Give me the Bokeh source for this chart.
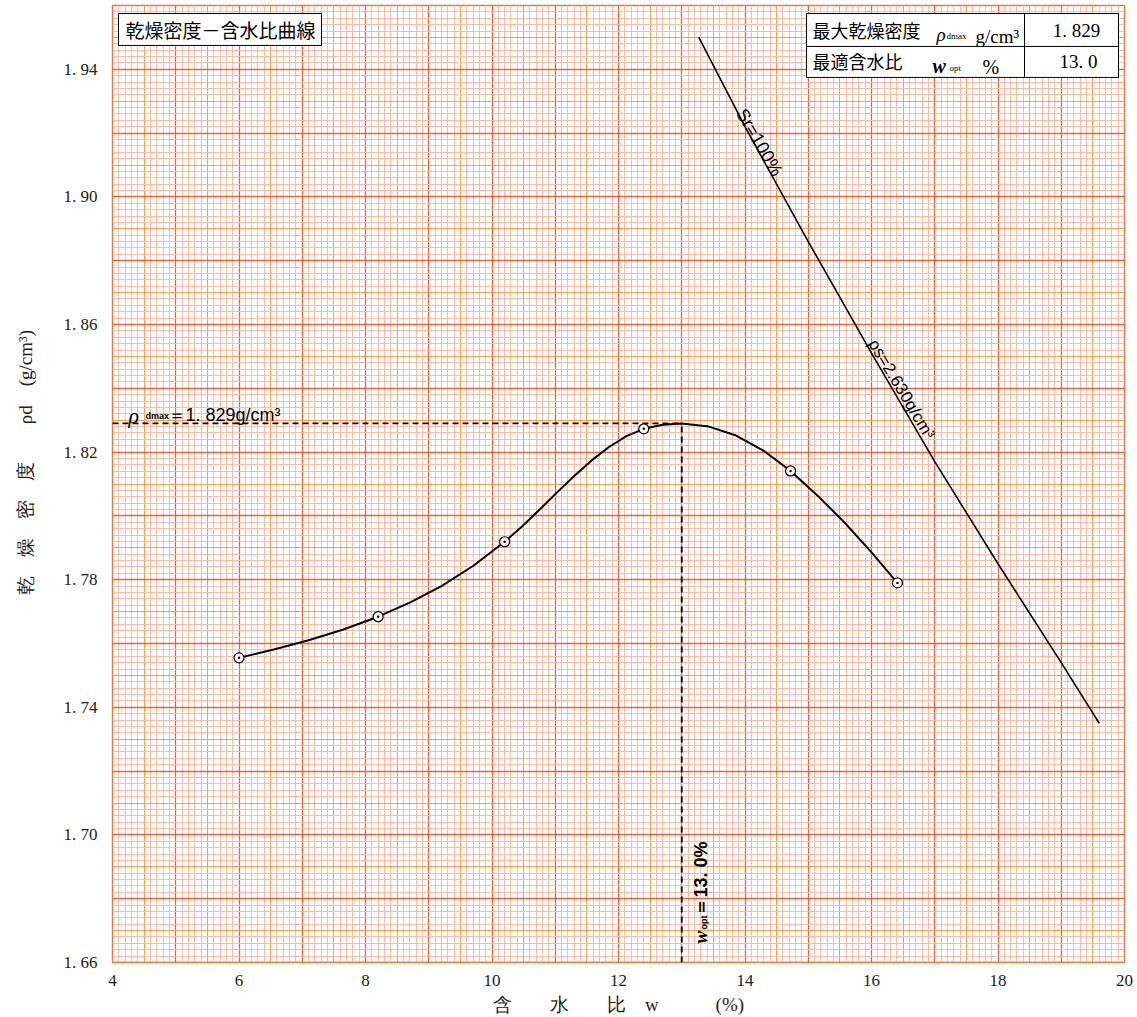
import math
from bokeh.plotting import figure
from bokeh.models import Range1d, Grid, SingleIntervalTicker, FixedTicker, Label
from bokeh.embed import file_html
from bokeh.resources import INLINE

# ---------------- data ----------------
water_content = [6.0, 8.2, 10.2, 12.4, 14.72, 16.41]             # w (%)
dry_density = [1.7555, 1.7684, 1.7919, 1.8273, 1.8141, 1.7790]   # rho_d (g/cm3)

curve_w = [6.0, 6.55, 7.1, 7.65, 8.2, 8.7, 9.2, 9.7, 10.2, 10.475, 10.75, 11.025,
           11.3, 11.575, 11.85, 12.125, 12.4, 12.7, 13.0, 13.43, 13.86, 14.29,
           14.72, 15.14, 15.57, 15.99, 16.41]
curve_rho = [1.7555, 1.7581, 1.7610, 1.7644, 1.7684, 1.7728, 1.7780, 1.7843,
             1.7919, 1.7967, 1.8019, 1.8073, 1.8125, 1.8174, 1.8216, 1.8250,
             1.8273, 1.8286, 1.8290, 1.8280, 1.8252, 1.8205, 1.8141, 1.8065,
             1.7980, 1.7888, 1.7790]

sat_w = [13.27, 14.0, 15.0, 16.0, 17.0, 18.0, 19.0, 19.6]       # Sr = 100 %
sat_rho = [1.950, 1.922, 1.886, 1.851, 1.817, 1.785, 1.754, 1.735]

rho_dmax = 1.829
w_opt = 13.0

x_ticks = [4, 6, 8, 10, 12, 14, 16, 18, 20]
x_tick_labels = ["4", "6", "8", "10", "12", "14", "16", "18", "20"]
y_ticks = [1.66, 1.70, 1.74, 1.78, 1.82, 1.86, 1.90, 1.94]
y_tick_labels = ["1. 66", "1. 70", "1. 74", "1. 78", "1. 82", "1. 86", "1. 90", "1. 94"]

x_title = "含　　水　　比　w　　　(%)"
y_title = "　　 乾　燥　密　度　　ρd　(g/cm³)"
title_text = "乾燥密度－含水比曲線"
table_row1 = "最大乾燥密度"
table_row2 = "最適含水比"
table_val1 = "1. 829"
table_val2 = "13. 0"

# ---------------- figure ----------------
W, H = 1137, 1017
L, R, T, B = 112, 13, 5, 54
X0, X1, Y0, Y1 = 4, 20, 1.66, 1.96
FW, FH = W - L - R, H - T - B


def X(px):
    return X0 + (px - L) * (X1 - X0) / FW


def Y(py):
    return Y0 + (T + FH - py) * (Y1 - Y0) / FH


CJK = "Noto Sans CJK JP"
SERIF = "Liberation Serif"
SANS = "Liberation Sans"

p = figure(width=W, height=H, x_range=Range1d(X0, X1), y_range=Range1d(Y0, Y1),
           output_backend="svg", toolbar_location=None,
           min_border_left=L, min_border_right=R, min_border_top=T, min_border_bottom=B)
p.background_fill_color = "white"
p.border_fill_color = "white"
p.outline_line_color = "#f07440"
p.outline_line_width = 1.5

p.xgrid.visible = False
p.ygrid.visible = False
for dim, specs in ((0, [(0.1, "#f6bea6", 1.0), (0.5, "#f7a04e", 1.0), (1.0, "#ee6236", 1.3)]),
                   (1, [(0.002, "#f6bea6", 1.0), (0.01, "#f7a04e", 1.0), (0.02, "#ee6236", 1.3)])):
    for interval, color, width in specs:
        p.add_layout(Grid(dimension=dim,
                          ticker=SingleIntervalTicker(interval=interval, num_minor_ticks=0),
                          grid_line_color=color, grid_line_width=width))

for ax, ticks, labels, standoff in ((p.xaxis, x_ticks, x_tick_labels, 6),
                                    (p.yaxis, y_ticks, y_tick_labels, 9)):
    ax.ticker = FixedTicker(ticks=ticks)
    ax.major_label_overrides = dict(zip(ticks, labels))
    ax.axis_line_color = None
    ax.major_tick_line_color = None
    ax.minor_tick_line_color = None
    ax.major_label_text_font = SERIF
    ax.major_label_text_font_size = "17px"
    ax.major_label_text_color = "#222222"
    ax.major_label_standoff = standoff
    ax.axis_label_text_font = SERIF
    ax.axis_label_text_font_size = "19px"
    ax.axis_label_text_font_style = "normal"
    ax.axis_label_text_color = "#222222"

p.xaxis.axis_label = x_title
p.xaxis.axis_label_standoff = 5
p.yaxis.axis_label = y_title
p.yaxis.axis_label_standoff = 25

# ---------------- glyphs ----------------
p.line(sat_w, sat_rho, line_color="black", line_width=1.6)
p.line([X0, w_opt], [rho_dmax, rho_dmax], line_color="black", line_width=1.8, line_dash="6 4")
p.line([w_opt, w_opt], [Y0, rho_dmax], line_color="black", line_width=1.8, line_dash="6 4")
p.line(curve_w, curve_rho, line_color="black", line_width=2, line_join="round")
p.scatter(water_content, dry_density, marker="circle_dot", size=10,
          fill_color="white", line_color="black", line_width=1.2)

# boxes (layout only)
p.quad(left=X(118), right=X(321), top=Y(13), bottom=Y(45),
       fill_color="white", line_color="black", line_width=1)
p.quad(left=X(806), right=X(1118), top=Y(13), bottom=Y(77),
       fill_color="white", line_color="black", line_width=1)
p.segment(x0=[X(806), X(1024)], y0=[Y(46), Y(13)], x1=[X(1118), X(1024)], y1=[Y(46), Y(77)],
          line_color="black", line_width=1)


def lab(px, py, text, size, font=SERIF, style="normal", align="left",
        baseline="middle", angle=0.0, color="black"):
    p.add_layout(Label(x=X(px), y=Y(py), text=text, text_font=font,
                       text_font_size=f"{size}px", text_font_style=style,
                       text_align=align, text_baseline=baseline, angle=angle,
                       text_color=color))


# title box
lab(125, 29, title_text, 19, CJK)

# table
lab(812, 30, table_row1, 18, CJK)
lab(936, 34, "ρ", 19, SERIF, "italic", baseline="alphabetic")
lab(946, 36, "dmax", 9, SERIF, baseline="alphabetic")
lab(975, 36, "g/cm³", 19, SERIF, baseline="alphabetic")
lab(1076, 30, table_val1, 19, SERIF, align="center")
lab(812, 61, table_row2, 18, CJK)
lab(932, 66, "w", 20, SERIF, "bold italic", baseline="alphabetic")
lab(949, 68, "opt", 9, SERIF, baseline="alphabetic")
lab(982, 67, "%", 20, SERIF, baseline="alphabetic")
lab(1078, 61, table_val2, 19, SERIF, align="center")

# line annotations
lab(759, 142, "Sr=100%", 18, SANS, align="center", angle=-1.04)
lab(901, 389, "ρs=2.630g/cm³", 17, SANS, align="center", angle=-1.03)

# rho_dmax label
lab(128, 415, "ρ", 22, SERIF, "italic", baseline="alphabetic")
lab(145, 416, "dmax", 9, SANS, "bold", baseline="alphabetic")
lab(167, 415, "＝1. 829g/cm³", 18, SANS, baseline="alphabetic")

# w_opt label (vertical)
lab(700, 944, "w", 19, SERIF, "bold italic", angle=math.pi / 2)
lab(703, 930, "opt", 9, SANS, "bold", angle=math.pi / 2)
lab(700, 916, "＝13. 0%", 18, SANS, "bold", angle=math.pi / 2)

open("out.html", "w").write(file_html(p, INLINE))
